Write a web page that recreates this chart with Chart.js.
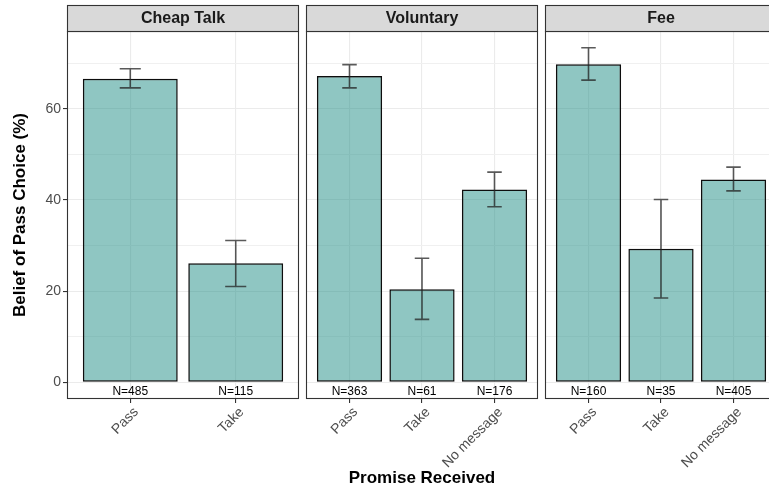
<!DOCTYPE html>
<html>
<head>
<meta charset="utf-8">
<script src="https://cdn.jsdelivr.net/npm/chart.js@4.4.1/dist/chart.umd.min.js"></script>
<style>
  html, body { margin: 0; padding: 0; background: #fff; overflow: hidden; }
  #wrap { position: relative; width: 769px; height: 491px; overflow: hidden; }
  canvas { position: absolute; top: 0; }
</style>
</head>
<body>
<div id="wrap">
  <canvas id="c1" width="300" height="491" style="left:0px"></canvas>
  <canvas id="c2" width="240" height="491" style="left:300px"></canvas>
  <canvas id="c3" width="250" height="491" style="left:539px"></canvas>
</div>
<script>
// data
var panelTitles = ['Cheap Talk', 'Voluntary', 'Fee'];

var cheapCats = ['Pass', 'Take'];
var cheapMean = [66.6, 26.1];
var cheapLo = [64.6, 21.0];
var cheapHi = [68.8, 31.1];
var cheapN = ['N=485', 'N=115'];

var volCats = ['Pass', 'Take', 'No message'];
var volMean = [67.2, 20.4, 42.3];
var volLo = [64.6, 13.8, 38.5];
var volHi = [69.7, 27.2, 46.1];
var volN = ['N=363', 'N=61', 'N=176'];

var feeCats = ['Pass', 'Take', 'No message'];
var feeMean = [69.8, 29.3, 44.5];
var feeLo = [66.3, 18.5, 42.0];
var feeHi = [73.4, 40.1, 47.2];
var feeN = ['N=160', 'N=35', 'N=405'];

var yGridValues = [0, 10, 20, 30, 40, 50, 60, 70];
var yTickLabels = ['0', '20', '40', '60'];

var yTitle = 'Belief of Pass Choice (%)';
var xTitle = 'Promise Received';

Chart.defaults.font.family = "'Liberation Sans', Arial, Helvetica, sans-serif";

// ggplot-like 5% expansion of the shared y range
var allHi = cheapHi.concat(volHi, feeHi);
var yTop = Math.max.apply(null, allHi);
var yMin = -yTop * 0.05;
var yMax = yTop * 1.05;

var panelPlugin = {
  id: 'panelStuff',
  afterDatasetsDraw: function(chart) {
    var o = chart.options.plugins.panelStuff;
    var ctx = chart.ctx;
    var xs = chart.scales.x, ys = chart.scales.y;
    var half = xs.getPixelForValue(1.1) - xs.getPixelForValue(1);
    ctx.save();
    // error bars
    ctx.strokeStyle = 'rgba(35,35,35,0.75)';
    ctx.lineWidth = 1.6;
    for (var i = 0; i < o.lo.length; i++) {
      var x = xs.getPixelForValue(i + 1);
      var y1 = ys.getPixelForValue(o.lo[i]);
      var y2 = ys.getPixelForValue(o.hi[i]);
      ctx.beginPath();
      ctx.moveTo(x, y1); ctx.lineTo(x, y2);
      ctx.moveTo(x - half, y1); ctx.lineTo(x + half, y1);
      ctx.moveTo(x - half, y2); ctx.lineTo(x + half, y2);
      ctx.stroke();
    }
    // N labels
    ctx.fillStyle = '#000';
    ctx.font = "12px 'Liberation Sans', Arial, sans-serif";
    ctx.textAlign = 'center';
    ctx.textBaseline = 'middle';
    for (var j = 0; j < o.n.length; j++) {
      ctx.fillText(o.n[j], xs.getPixelForValue(j + 1), ys.getPixelForValue(0) + 9.5);
    }
    ctx.restore();
  },
  afterDraw: function(chart) {
    var o = chart.options.plugins.panelStuff;
    var a = chart.chartArea;
    var ctx = chart.ctx;
    ctx.save();
    // panel border
    ctx.strokeStyle = '#333333';
    ctx.lineWidth = 1.1;
    ctx.strokeRect(a.left + 0.5, a.top + 0.5, a.right - a.left - 1, a.bottom - a.top - 1);
    // facet strip
    ctx.fillStyle = '#d9d9d9';
    ctx.fillRect(a.left, a.top - 26, a.right - a.left, 26);
    ctx.strokeRect(a.left + 0.5, a.top - 25.5, a.right - a.left - 1, 26);
    ctx.fillStyle = '#1a1a1a';
    ctx.font = "bold 16px 'Liberation Sans', Arial, sans-serif";
    ctx.textAlign = 'center';
    ctx.textBaseline = 'middle';
    ctx.fillText(o.title, (a.left + a.right) / 2, a.top - 12.5);
    ctx.restore();
  }
};

function makePanel(id, title, cats, mean, lo, hi, nLabels, opts) {
  var pts = mean.map(function(v, i) { return { x: i + 1, y: v }; });
  var ctx = document.getElementById(id).getContext('2d');
  return new Chart(ctx, {
    type: 'bar',
    data: {
      datasets: [{
        data: pts,
        backgroundColor: 'rgba(32, 142, 133, 0.5)',
        borderColor: '#0d0d0d',
        borderWidth: 1.5,
        borderSkipped: false,
        barPercentage: 0.9,
        categoryPercentage: 1.0
      }]
    },
    plugins: [panelPlugin],
    options: {
      responsive: false,
      animation: false,
      layout: { padding: opts.padding },
      plugins: {
        legend: { display: false },
        tooltip: { enabled: false },
        panelStuff: { title: title, lo: lo, hi: hi, n: nLabels }
      },
      scales: {
        x: {
          type: 'linear',
          offset: false,
          min: 0.4,
          max: cats.length + 0.6,
          afterBuildTicks: function(scale) {
            scale.ticks = cats.map(function(c, i) { return { value: i + 1 }; });
          },
          afterFit: function(scale) {
            scale.height = 92;
            scale.paddingLeft = 0; scale.paddingRight = 0;
          },
          border: { display: false },
          grid: {
            offset: false,
            color: '#ebebeb',
            lineWidth: 1.1,
            drawTicks: true,
            tickLength: 4,
            tickColor: '#333333'
          },
          ticks: {
            autoSkip: false,
            maxRotation: 45,
            minRotation: 45,
            padding: 1,
            labelOffset: 6,
            color: '#4d4d4d',
            font: { size: 14 },
            callback: function(v) { return cats[Math.round(v) - 1]; }
          },
          title: opts.xTitle ? {
            display: true,
            text: xTitle,
            color: '#000',
            font: { size: 17, weight: 'bold' },
            padding: { top: 0, bottom: 2 }
          } : { display: false }
        },
        y: {
          min: yMin,
          max: yMax,
          afterBuildTicks: function(scale) {
            scale.ticks = yGridValues.map(function(v) { return { value: v }; });
          },
          afterFit: function(scale) {
            scale.width = opts.showY ? 67 : 0;
            scale.paddingTop = 0; scale.paddingBottom = 0;
          },
          border: { display: false },
          grid: {
            color: function(c) { return c.tick && c.tick.value % 20 === 0 ? '#ebebeb' : '#f0f0f0'; },
            lineWidth: function(c) { return c.tick && c.tick.value % 20 === 0 ? 1.1 : 1; },
            drawTicks: opts.showY,
            tickLength: 4,
            tickColor: function(c) { return c.tick && c.tick.value % 20 === 0 ? '#333333' : 'rgba(0,0,0,0)'; }
          },
          ticks: {
            display: opts.showY,
            padding: 2,
            color: '#4d4d4d',
            font: { size: 14 },
            callback: function(v) {
              var s = String(v);
              return yTickLabels.indexOf(s) >= 0 ? s : '';
            }
          },
          title: opts.showY ? {
            display: true,
            text: yTitle,
            color: '#000',
            font: { size: 17, weight: 'bold' },
            padding: { top: 10, bottom: 0 }
          } : { display: false }
        }
      }
    }
  });
}

makePanel('c1', panelTitles[0], cheapCats, cheapMean, cheapLo, cheapHi, cheapN,
  { padding: { left: 0, top: 31, right: 1, bottom: 0 }, showY: true, xTitle: false });
makePanel('c2', panelTitles[1], volCats, volMean, volLo, volHi, volN,
  { padding: { left: 6, top: 31, right: 2, bottom: 0 }, showY: false, xTitle: true });
makePanel('c3', panelTitles[2], feeCats, feeMean, feeLo, feeHi, feeN,
  { padding: { left: 6, top: 31, right: 12, bottom: 0 }, showY: false, xTitle: false });
</script>
</body>
</html>
